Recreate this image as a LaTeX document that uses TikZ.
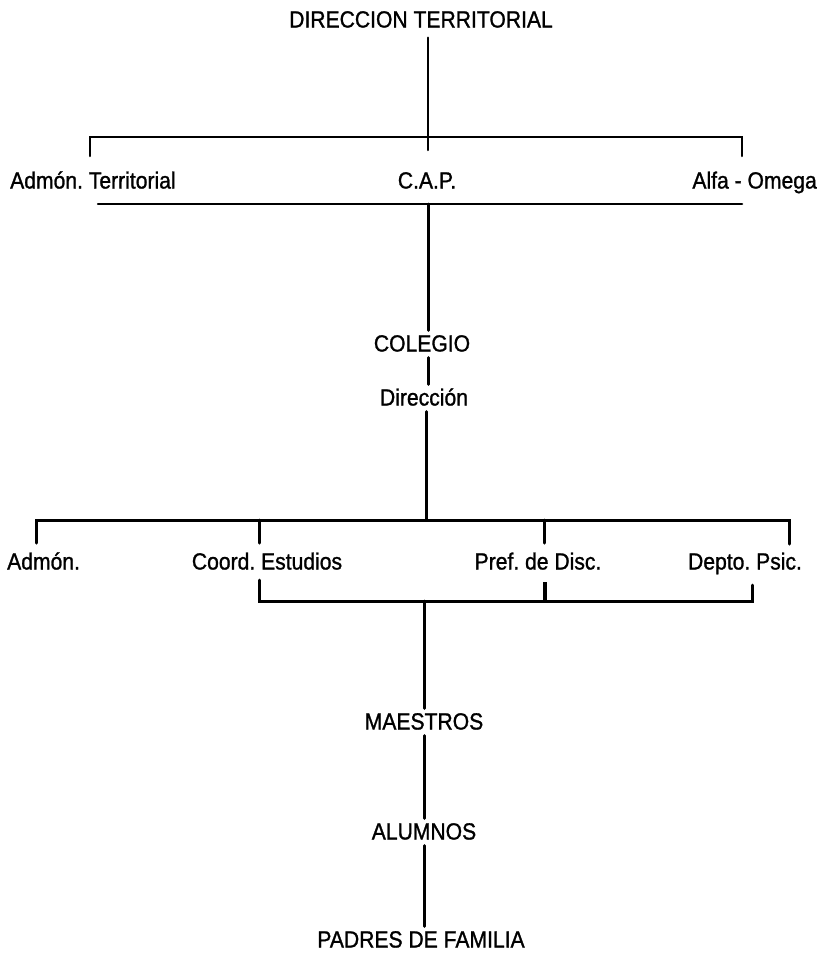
\documentclass[tikz,border=0pt]{standalone}
\usepackage{fontspec}
\setmainfont{Liberation Sans}
\newfontfamily\labfont{Liberation Sans}[FakeBold=1.2]
\newcommand\tx[1]{\scalebox{1.03}[1.14]{#1}}
\begin{document}
\frenchspacing
\begin{tikzpicture}[x=1pt,y=-1pt,
  lbl/.style={inner sep=3pt,text height=18pt,text depth=3pt,font=\labfont\fontsize{20.5}{22}\selectfont},
  conn/.style={line width=3pt,line cap=round,line join=miter},
  thin/.style={line width=2.5pt,line cap=round}]
\useasboundingbox (0,0) rectangle (820,954);
% nodes
\node[lbl] (dt) at (421,20) {\tx{DIRECCION TERRITORIAL}};
\node[lbl,anchor=west] (adt) at (7,181) {\tx{Admón. Territorial}};
\node[lbl] (cap) at (427,181) {\tx{C.A.P.}};
\node[lbl,anchor=east] (alfa) at (820,181) {\tx{Alfa - Omega}};
\node[lbl] (col) at (422,344) {\tx{COLEGIO}};
\node[lbl] (dir) at (424,398) {\tx{Dirección}};
\node[lbl,anchor=west] (admon) at (4,562) {\tx{Admón.}};
\node[lbl] (coord) at (267,562) {\tx{Coord. Estudios}};
\node[lbl] (pref) at (538,562) {\tx{Pref. de Disc.}};
\node[lbl] (depto) at (745,562) {\tx{Depto. Psic.}};
\node[lbl] (maes) at (424,722) {\tx{MAESTROS}};
\node[lbl] (alum) at (424,832) {\tx{ALUMNOS}};
\node[lbl] (pad) at (421,940) {\tx{PADRES DE FAMILIA}};
% junction coordinates
\coordinate (t0) at (428,137);
\coordinate (tl) at (90,137);
\coordinate (tr) at (742,137);
\coordinate (ul) at (98,204);
\coordinate (ur) at (742,204);
\coordinate (m0) at (426,520);
\coordinate (bl) at (36,520);
\coordinate (b2) at (259,520);
\coordinate (b3) at (544,520);
\coordinate (br) at (789,520);
\coordinate (cl) at (259,601);
\coordinate (cm) at (545,601);
\coordinate (cr) at (752,601);
\coordinate (c0) at (424,601);
% top level
\draw[thin] ([yshift=-4]dt.south -| t0) -- ([yshift=-13]t0);
\draw[thin] ([yshift=-19]tl) -- (tl) -- (tr) -- ([yshift=-19]tr);
\draw[thin] (ul) -- (ur);
\draw[conn] (ul -| t0) -- (col.north -| t0);
\draw[conn] (col.south -| t0) -- (dir.north -| t0);
\draw[conn] (dir.south -| m0) -- (m0);
% middle bracket
\draw[conn] ([yshift=-23]bl) -- (bl) -- (br) -- ([yshift=-24]br);
\draw[conn] (b2) -- ([yshift=-23]b2);
\draw[conn] (b3) -- ([yshift=-23]b3);
% lower bracket
\draw[conn] ([yshift=21]cl) -- (cl) -- (cr) -- ([yshift=16]cr);
\draw[line width=4pt] ([yshift=19]cm) -- (cm);
\draw[conn] (c0) -- (maes.north -| c0);
\draw[conn] (maes.south -| c0) -- (alum.north -| c0);
\draw[conn] (alum.south -| c0) -- (pad.north -| c0);
\end{tikzpicture}
\end{document}
